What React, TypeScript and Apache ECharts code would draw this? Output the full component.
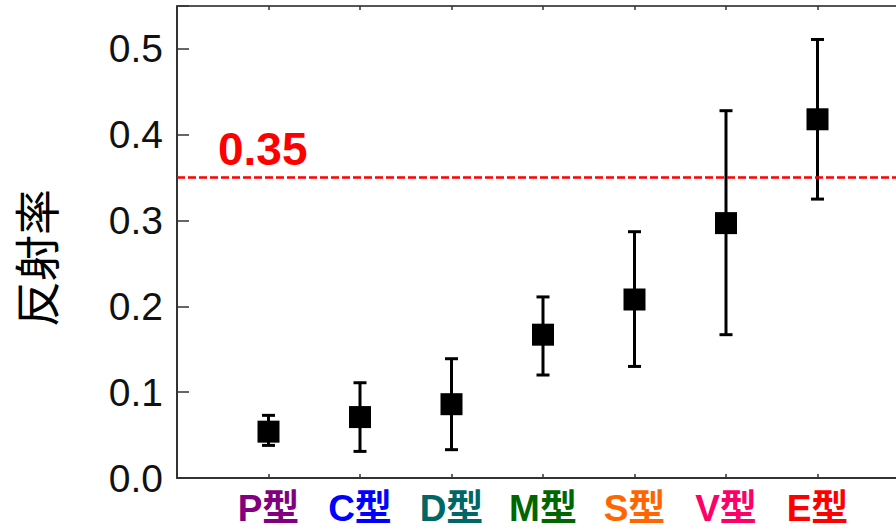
import React, { useEffect, useRef } from "react";
import * as echarts from "echarts";

const categories = ["P型", "C型", "D型", "M型", "S型", "V型", "E型"];
const labelColors = ["#800080", "#0000FF", "#006666", "#006600", "#FF6600", "#FF0066", "#FF0000"];
const means = [0.054, 0.071, 0.086, 0.167, 0.208, 0.297, 0.418];
const lows = [0.038, 0.031, 0.033, 0.12, 0.13, 0.167, 0.325];
const highs = [0.073, 0.111, 0.139, 0.211, 0.287, 0.428, 0.511];
const threshold = 0.35;
const yTicks = [0, 0.1, 0.2, 0.3, 0.4, 0.5];

export default function App() {
  const ref = useRef<HTMLDivElement>(null);
  useEffect(() => {
    if (!ref.current) return;
    const chart = echarts.init(ref.current, undefined, { renderer: "svg" });
    const rich: Record<string, any> = {};
    categories.forEach((c, i) => {
      rich["c" + i] = {
        color: labelColors[i],
        fontSize: 37,
        fontWeight: "bold",
        fontFamily: "Liberation Sans, Noto Sans CJK JP, sans-serif",
      };
    });
    const axisLineStyle = { color: "#333", width: 2 };
    const xMax = categories.length + 1;
    const labelFmt = (v: number) => {
      const i = Math.round(v) - 1;
      if (i < 0 || i >= categories.length) return "";
      return "{c" + i + "|" + categories[i] + "}";
    };
    chart.setOption({
      animation: false,
      backgroundColor: "#fff",
      grid: {
        left: 177,
        top: 6,
        bottom: 54,
        width: 732,
        containLabel: false,
        outerBoundsMode: "none",
      },
      xAxis: [
        {
          type: "value",
          min: 0,
          max: xMax,
          interval: 1,
          position: "bottom",
          splitLine: { show: false },
          axisLine: { show: true, onZero: false, lineStyle: axisLineStyle },
          axisTick: { show: true, inside: true, length: 4, lineStyle: { color: "#333", width: 1.5 } },
          axisLabel: { margin: 12, formatter: labelFmt, rich },
        },
        {
          type: "value",
          min: 0,
          max: xMax,
          interval: 1,
          position: "top",
          splitLine: { show: false },
          axisLine: { show: true, onZero: false, lineStyle: { color: "#555", width: 2 } },
          axisTick: { show: true, inside: true, length: 4, lineStyle: { color: "#333", width: 1.5 } },
          axisLabel: { show: false },
        },
      ],
      yAxis: {
        type: "value",
        min: 0,
        max: 0.55,
        interval: 0.1,
        splitLine: { show: false },
        axisLine: { show: true, onZero: false, lineStyle: axisLineStyle },
        axisTick: { show: true, inside: true, length: 12, lineStyle: { color: "#333", width: 1.5 } },
        axisLabel: {
          margin: 14,
          fontSize: 39,
          color: "#111",
          fontFamily: "Liberation Sans, Arial, sans-serif",
          formatter: (v: number) => (yTicks.some((t) => Math.abs(t - v) < 1e-6) ? v.toFixed(1) : ""),
        },
      },
      graphic: [
        {
          type: "text",
          x: 34,
          y: 258,
          rotation: Math.PI / 2,
          style: {
            text: "反射率",
            fontSize: 46,
            fontFamily: "Noto Sans CJK JP, sans-serif",
            fill: "#000",
            align: "center",
            verticalAlign: "middle",
          },
        },
      ],
      series: [
        {
          type: "custom",
          data: categories.map((_, i) => [i + 1, lows[i], highs[i]]),
          renderItem: (params: any, api: any) => {
            const x = api.value(0);
            const lo = api.coord([x, api.value(1)]);
            const hi = api.coord([x, api.value(2)]);
            const cap = 6.5;
            const style = { stroke: "#000", lineWidth: 3 };
            return {
              type: "group",
              children: [
                { type: "line", shape: { x1: lo[0], y1: lo[1], x2: hi[0], y2: hi[1] }, style },
                { type: "line", shape: { x1: lo[0] - cap, y1: lo[1], x2: lo[0] + cap, y2: lo[1] }, style },
                { type: "line", shape: { x1: hi[0] - cap, y1: hi[1], x2: hi[0] + cap, y2: hi[1] }, style },
              ],
            };
          },
          z: 2,
        },
        {
          type: "scatter",
          symbol: "rect",
          symbolSize: 22,
          itemStyle: { color: "#000", opacity: 1 },
          data: categories.map((_, i) => [i + 1, means[i]]),
          z: 3,
          markLine: {
            silent: true,
            symbol: "none",
            lineStyle: { color: "#FF0000", type: [8, 3], width: 2.5, opacity: 1 },
            label: {
              show: true,
              position: "insideStartTop",
              formatter: String(threshold),
              color: "#FF0000",
              fontSize: 46,
              fontWeight: "bold",
              fontFamily: "Liberation Sans, Arial, sans-serif",
              distance: [41, 6],
            },
            data: [{ yAxis: threshold }],
          },
        },
      ],
    });
    return () => chart.dispose();
  }, []);
  return <div ref={ref} style={{ position: "fixed", left: 0, top: 0, width: 896, height: 532 }} />;
}
